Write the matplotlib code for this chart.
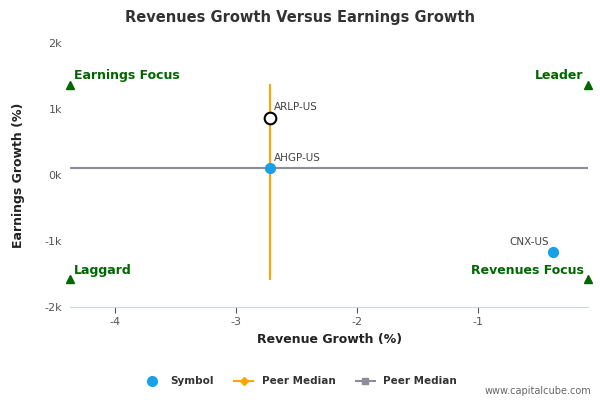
import matplotlib
matplotlib.use("Agg")
import matplotlib.pyplot as plt
from matplotlib.lines import Line2D

symbols = ["ARLP-US", "AHGP-US", "CNX-US"]
rev_growth = [-2.72, -2.72, -0.38]
earn_growth = [870, 100, -1170]
median_x = -2.72
median_y = 100
vline_range = [-1580, 1370]
corner_y = [1370, -1580]
xlim = [-4.37, -0.09]
ylim = [-2000, 2000]

fig = plt.figure(figsize=(6, 4), dpi=100)
ax = fig.add_axes([0.117, 0.2325, 0.863, 0.66])
ax.set_xlim(xlim); ax.set_ylim(ylim)
for s in ["top", "right", "left"]:
    ax.spines[s].set_visible(False)
ax.spines["bottom"].set_color("#ccd6eb")
ax.set_xticks([-4, -3, -2, -1])
ax.set_xticklabels(["-4", "-3", "-2", "-1"])
ax.set_yticks([-2000, -1000, 0, 1000, 2000])
ax.set_yticklabels(["-2k", "-1k", "0k", "1k", "2k"])
ax.tick_params(labelsize=8, colors="#555555", length=4)
ax.tick_params(axis="y", length=0, pad=6)
ax.set_xlabel("Revenue Growth (%)", fontsize=9, fontweight="bold", color="#222222")
ax.set_ylabel("Earnings Growth (%)", fontsize=9, fontweight="bold", color="#222222", labelpad=14)
fig.text(0.5, 0.957, "Revenues Growth Versus Earnings Growth", ha="center", va="center", fontsize=10.5, fontweight="bold", color="#333333")

ax.plot([xlim[0], xlim[1]], [median_y, median_y], color="#8c8c9c", lw=1.5, zorder=2)
ax.plot([median_x, median_x], vline_range, color="orange", lw=1.5, zorder=2)

ax.scatter([rev_growth[0]], [earn_growth[0]], s=70, facecolor="white", edgecolor="black", lw=1.5, zorder=4)
ax.scatter(rev_growth[1:], earn_growth[1:], s=50, color="#1aa0e8", zorder=4)
offs = [(3, 4), (3, 4), (-3, 4)]
has = ["left", "left", "right"]
for sx, sy, lab, o, h in zip(rev_growth, earn_growth, symbols, offs, has):
    ax.annotate(lab, (sx, sy), xytext=o, textcoords="offset points", fontsize=7.5, color="#444444", ha=h, va="bottom")

green = "#006600"
for x in xlim:
    for y in corner_y:
        ax.plot(x, y, marker="^", color=green, ms=6, clip_on=False, zorder=5)
ax.annotate("Earnings Focus", (xlim[0], corner_y[0]), xytext=(3, 2), textcoords="offset points", fontsize=9, fontweight="bold", color=green, ha="left", va="bottom")
ax.annotate("Leader", (xlim[1], corner_y[0]), xytext=(-3, 2), textcoords="offset points", fontsize=9, fontweight="bold", color=green, ha="right", va="bottom")
ax.annotate("Laggard", (xlim[0], corner_y[1]), xytext=(3, 2), textcoords="offset points", fontsize=9, fontweight="bold", color=green, ha="left", va="bottom")
ax.annotate("Revenues Focus", (xlim[1], corner_y[1]), xytext=(-3, 2), textcoords="offset points", fontsize=9, fontweight="bold", color=green, ha="right", va="bottom")

handles = [Line2D([], [], ls="none", marker="o", color="#1aa0e8", ms=7),
           Line2D([], [], color="orange", marker="D", ms=4, lw=1.5),
           Line2D([], [], color="#8c8c9c", marker="s", ms=5, lw=1.5)]
fig.legend(handles, ["Symbol", "Peer Median", "Peer Median"], loc="center", bbox_to_anchor=(0.5, 0.047), ncol=3, frameon=False, prop={"size": 7.5, "weight": "bold"}, handlelength=1.8, columnspacing=2, labelcolor="#333333")
fig.text(0.985, 0.015, "www.capitalcube.com", ha="right", fontsize=7, color="#666666")
fig.savefig("out.png", dpi=100)
